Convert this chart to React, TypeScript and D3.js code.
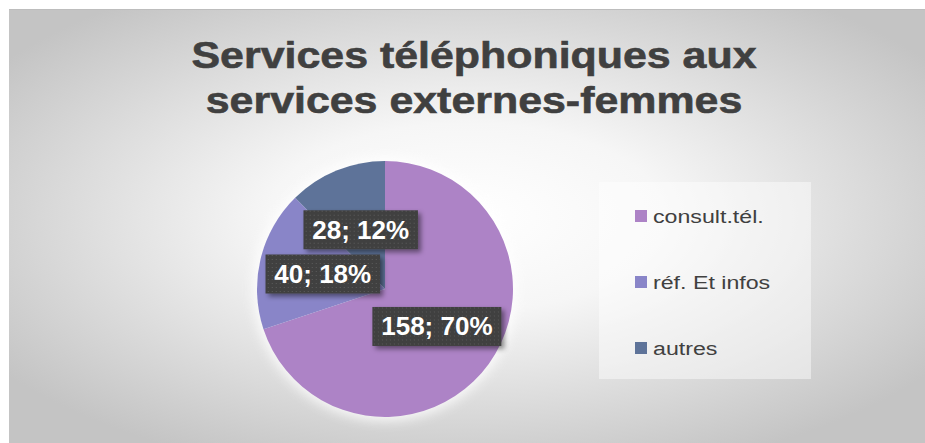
import * as d3 from 'd3';
import React from 'react';

const categories = ["consult.tél.", "réf. Et infos", "autres"];
const values = [158, 40, 28];
const colours = ["#ad83c6", "#8985c8", "#5e7399"];
const titleLines = ["Services téléphoniques aux", "services externes-femmes"];

const W = 925;
const H = 443;
const FONT = "Arial, 'Liberation Sans', sans-serif";

export default function App() {
  const cx = 385;
  const cy = 289;
  const r = 128;

  const total = d3.sum(values);
  const pie = d3.pie<number>().sort(null).value(d => d);
  const arcs = pie(values);
  const arc = d3.arc<d3.PieArcDatum<number>>().innerRadius(0).outerRadius(r);

  const pct = d3.format(".0%");

  // legend layout
  const legendY = d3.scalePoint<string>().domain(categories).range([216, 348]);

  return (
    <svg width={W} height={H} style={{position: "absolute", left: 0, top: 0, fontFamily: FONT}}>
      <defs>
        <radialGradient id="bg" cx="50%" cy="48%" r="62%">
          <stop offset="0" stopColor="#ffffff"/>
          <stop offset="0.35" stopColor="#f6f6f6"/>
          <stop offset="1" stopColor="#c4c4c4"/>
        </radialGradient>
        <pattern id="dots" width="4" height="4" patternUnits="userSpaceOnUse">
          <rect width="4" height="4" fill="#404040"/>
          <rect x="1" y="1" width="1" height="1" fill="#5a5a5a"/>
        </pattern>
        <filter id="shadow" x="-20%" y="-30%" width="150%" height="170%">
          <feDropShadow dx="3" dy="3" stdDeviation="2.5" floodColor="#000" floodOpacity="0.45"/>
        </filter>
        <filter id="glow" x="-20%" y="-20%" width="140%" height="140%">
          <feGaussianBlur stdDeviation="6"/>
        </filter>
      </defs>
      <rect width={W} height={H} fill="#ffffff"/>
      <rect x={9} y={9} width={W - 9} height={H - 9} fill="url(#bg)"/>
      <line x1={9} x2={W} y1={9.5} y2={9.5} stroke="#bdbdbd"/>

      {titleLines.map((t, i) => (
        <g key={i} transform={`translate(474,${68 + i * 45}) scale(1.16,1)`}>
          <text textAnchor="middle" fontSize={37} fontWeight="bold" fill="#404040"
                stroke="#404040" strokeWidth={0.6}>{t}</text>
        </g>
      ))}

      <g transform={`translate(${cx},${cy})`}>
        <circle r={r + 4} fill="#ffffff" opacity={0.8} filter="url(#glow)"/>
        {arcs.map((a, i) => (
          <path key={i} d={arc(a) || ""} fill={colours[i]}/>
        ))}
        {arcs.map((a, i) => i).reverse().map(i => {
          const [x, y] = arc.centroid(arcs[i]);
          const label = `${values[i]}; ${pct(values[i] / total)}`;
          const bw = label.length * 14.5 + 13;
          const bh = 39;
          return (
            <g key={i} transform={`translate(${x},${y})`}>
              <rect x={-bw / 2} y={-bh / 2} width={bw} height={bh} fill="url(#dots)" filter="url(#shadow)"/>
              <text y={9} textAnchor="middle" fontSize={25} fontWeight="bold" fill="#ffffff"
                    transform="scale(1.04,1)">{label}</text>
            </g>
          );
        })}
      </g>

      <rect x={599} y={182} width={212} height={197} fill="#ffffff" opacity={0.45}/>
      {categories.map((c, i) => (
        <g key={c} transform={`translate(635,${legendY(c)})`}>
          <rect x={0} y={-6} width={12} height={12} fill={colours[i]}/>
          <text x={0} y={7} fontSize={19} fill="#404040"
                transform="translate(18,0) scale(1.22,1)">{c}</text>
        </g>
      ))}
    </svg>
  );
}
